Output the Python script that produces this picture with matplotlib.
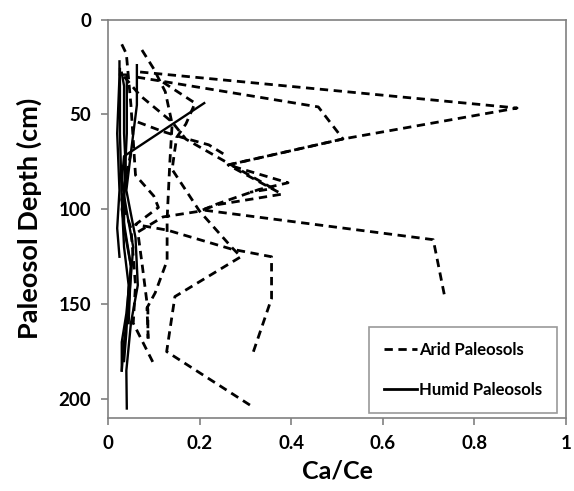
import matplotlib.pyplot as plt
from matplotlib.lines import Line2D

plt.rcParams['font.family'] = ['Lato', 'DejaVu Sans']
plt.rcParams['font.weight'] = 'bold'

# Arid paleosol profiles: Ca/Ce ratio and depth (cm), one list per profile
arid_ca_ce = [
    [0.07, 0.893, 0.513, 0.262, 0.38, 0.24, 0.205, 0.71, 0.735],
    [0.063, 0.459, 0.513, 0.262, 0.393, 0.33, 0.24, 0.20, 0.12, 0.065, 0.075, 0.087, 0.087],
    [0.12, 0.19, 0.17, 0.15, 0.145, 0.14, 0.20, 0.27, 0.29, 0.146, 0.128, 0.315],
    [0.03, 0.04, 0.05, 0.06, 0.10, 0.11, 0.06, 0.13, 0.27, 0.357, 0.357, 0.316],
    [0.074, 0.10, 0.125, 0.14, 0.135, 0.13, 0.129, 0.129, 0.103, 0.085, 0.088],
    [0.035, 0.07, 0.14, 0.17, 0.25, 0.36, 0.31],
    [0.065, 0.12, 0.16, 0.22, 0.26],
    [0.05, 0.03, 0.05, 0.06, 0.055, 0.103],
]
arid_depth = [
    [27.6, 46.6, 62.9, 76.6, 92, 97.5, 100.3, 116, 146],
    [30.3, 46, 62.9, 76.6, 86, 89.5, 97, 101, 104, 112, 130, 153, 168],
    [33, 44, 55, 62, 70, 79, 101, 120, 125, 146, 175, 204],
    [13, 18, 45, 82, 93, 99, 108, 111, 121, 125, 147, 176],
    [16, 26, 38, 55, 75, 100, 106, 127, 144, 152, 169],
    [30, 40, 54, 63, 74, 89, 91],
    [54, 59, 62, 66, 72],
    [70, 95, 110, 140, 160, 183],
]

# Humid paleosol profiles
humid_ca_ce = [
    [0.025, 0.025, 0.02, 0.025, 0.02, 0.025],
    [0.026, 0.041, 0.041, 0.035, 0.035, 0.05, 0.04, 0.03, 0.03],
    [0.063, 0.063, 0.05, 0.04, 0.06, 0.065, 0.05, 0.04, 0.041],
    [0.21, 0.035, 0.03, 0.04, 0.055, 0.045, 0.035, 0.03],
    [0.03, 0.035, 0.035, 0.04, 0.03, 0.05, 0.045],
    [0.026, 0.026, 0.03, 0.035, 0.045, 0.04, 0.035],
]
humid_depth = [
    [22, 30, 60, 90, 110, 125],
    [29, 29, 60, 90, 110, 130, 155, 170, 185],
    [24, 45, 70, 90, 115, 140, 160, 185, 205],
    [44, 72, 85, 100, 120, 150, 170, 185],
    [28, 35, 60, 85, 100, 130, 160],
    [26, 60, 95, 120, 140, 165, 180],
]

dash_style = (0, (3.0, 2.0))

fig = plt.figure(figsize=(5.74, 4.91), dpi=100)
ax = fig.add_axes([0.1882, 0.1487, 0.798, 0.8113])

for xs, ds in zip(arid_ca_ce, arid_depth):
    ax.plot(xs, ds, color='black', linewidth=2.0, linestyle=dash_style)
for xs, ds in zip(humid_ca_ce, humid_depth):
    ax.plot(xs, ds, color='black', linewidth=1.7, linestyle='-')

ax.set_xlim(0, 1)
ax.set_ylim(210, 0)
ax.set_xticks([0, 0.2, 0.4, 0.6, 0.8, 1])
ax.set_xticklabels(['0', '0.2', '0.4', '0.6', '0.8', '1'])
ax.set_yticks([0, 50, 100, 150, 200])

for s in ax.spines.values():
    s.set_color('#808080')
    s.set_linewidth(1.2)
ax.tick_params(direction='out', length=5, width=1.2, color='#808080',
               labelsize=13.5, pad=7)

ax.set_xlabel('Ca/Ce', fontsize=18, fontweight='bold', labelpad=6)
ax.set_ylabel('Paleosol Depth (cm)', fontsize=19.5, fontweight='bold', labelpad=12)

handles = [
    Line2D([], [], color='black', linewidth=2.0, linestyle=dash_style),
    Line2D([], [], color='black', linewidth=2.0, linestyle='-'),
]
leg = ax.legend(handles, ['Arid Paleosols', 'Humid Paleosols'],
                loc='lower right', bbox_to_anchor=(0.98, 0.0125),
                borderaxespad=0, fancybox=False, frameon=True,
                prop={'size': 12, 'weight': 'bold'},
                handlelength=2.0, handletextpad=0.1,
                labelspacing=1.45, borderpad=0.9)
leg.get_frame().set_edgecolor('#808080')
leg.get_frame().set_linewidth(1.2)

fig.savefig('out.png', dpi=100)
